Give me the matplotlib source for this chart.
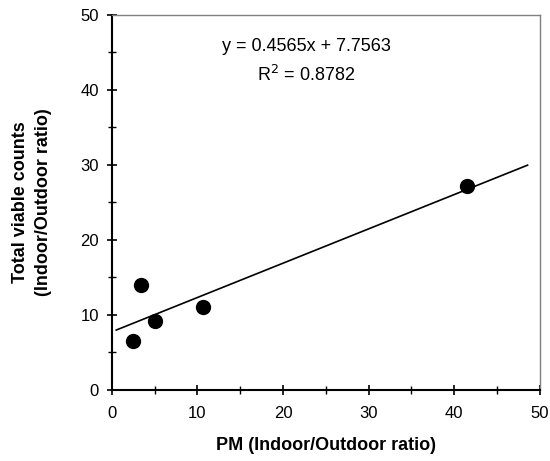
import numpy as np
import matplotlib.pyplot as plt

plt.rcParams['font.family'] = ['Liberation Sans', 'DejaVu Sans']

# data
pm_ratio = [2.4, 3.35, 5.0, 10.7, 41.5]
tvc_ratio = [6.5, 14.0, 9.25, 11.1, 27.2]
slope = 0.4565
intercept = 7.7563
r2 = 0.8782
fit_x = [0.5, 48.6]

fig = plt.figure(figsize=(5.5, 4.61), dpi=100)
ax = fig.add_axes([0.2036, 0.154, 0.7774, 0.8145])

ax.scatter(pm_ratio, tvc_ratio, s=100, color='black', zorder=3)
fx = np.array(fit_x)
ax.plot(fx, slope * fx + intercept, color='black', lw=1.2)

ax.text(22.7, 45.7, 'y = %.4fx + %.4f' % (slope, intercept), ha='center', va='center', fontsize=13)
ax.text(22.7, 41.9, r'R$^2$ = %.4f' % r2, ha='center', va='center', fontsize=13)

ax.set_xlim(0, 50)
ax.set_ylim(0, 50)
ax.set_xticks(range(0, 51, 10))
ax.set_yticks(range(0, 51, 10))
ax.set_xticks(range(5, 50, 10), minor=True)
ax.set_yticks(range(5, 50, 10), minor=True)
ax.tick_params(which='major', direction='inout', length=7, width=1.2, labelsize=12)
ax.tick_params(which='minor', direction='inout', length=6, width=1)
ax.tick_params(axis='x', which='major', pad=8)
ax.tick_params(axis='y', which='major', pad=6)

for s in ['left', 'bottom']:
    ax.spines[s].set_linewidth(1.5)
for s in ['top', 'right']:
    ax.spines[s].set_linewidth(1.0)
    ax.spines[s].set_color('#808080')

ax.set_xlabel('PM (Indoor/Outdoor ratio)', fontsize=13, fontweight='bold', va='center')
ax.xaxis.set_label_coords(0.5, -0.1465)
ax.set_ylabel('Total viable counts\n(Indoor/Outdoor ratio)', fontsize=13, fontweight='bold',
              va='center', linespacing=1.4)
ax.yaxis.set_label_coords(-0.187, 0.5)

fig.savefig('out.png', dpi=100)
